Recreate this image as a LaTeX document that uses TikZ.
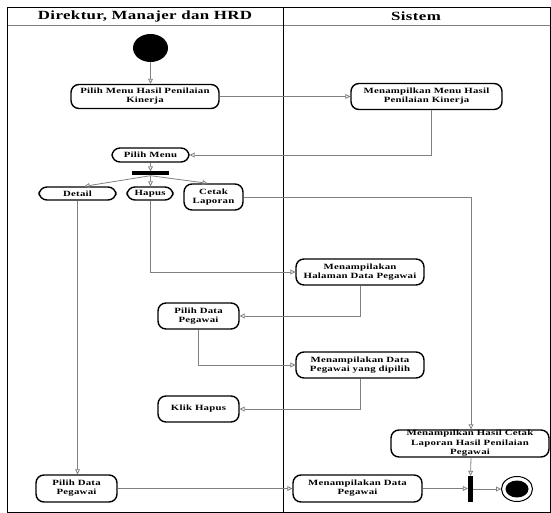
\documentclass[tikz,border=0pt]{standalone}
\usepackage{fontspec}
\setmainfont{Liberation Serif}[FakeStretch=1.35, LetterSpace=3]
\usepackage{tikz}
\usetikzlibrary{positioning,arrows}
\usetikzlibrary{shapes}
\usetikzlibrary{arrows.meta}

\begin{document}
\begin{tikzpicture}[x=1pt,y=-1pt]
  \useasboundingbox (0,0) rectangle (551,513);
  \tikzstyle{act}=[draw, line width=1.4pt, rounded corners=8pt, align=center, inner sep=1pt, font=\bfseries\fontsize{8}{9}\selectfont]
  \tikzstyle{lane}=[font=\bfseries\fontsize{12.5}{14}\selectfont]
  \tikzstyle{bar}=[fill=black, inner sep=0pt]
  \tikzstyle{flow}=[draw=gray, line width=0.8pt, -{Triangle[open, length=5pt, width=5pt]}]
  % swimlanes
  \draw [line width=0.6pt] (7.5,7.5) rectangle (550,512);
  \draw [gray, line width=0.6pt] (7.5,25.5) -- (550,25.5);
  \draw [line width=0.7pt] (283,7.5) -- (283,512);
  \draw (145,16) node (lane_user) [lane] {Direktur, Manajer dan HRD};
  \draw (416,16.5) node (lane_sys) [lane] {Sistem};
  % actions
  \draw (150.5,48) node (start) [ellipse, fill=black, minimum width=35, minimum height=28, inner sep=0pt] {};
  \draw (145,96.5) node (pilih_menu_hasil) [act, minimum width=148, minimum height=24] {Pilih Menu Hasil Penilaian\\Kinerja};
  \draw (426.5,96.5) node (tampil_menu_hasil) [act, minimum width=151, minimum height=26] {Menampilkan Menu Hasil\\Penilaian Kinerja};
  \draw (150.5,155) node (pilih_menu) [act, minimum width=77, minimum height=14] {Pilih Menu};
  \draw (150.5,173.5) node (fork) [bar, minimum width=37, minimum height=4] {};
  \draw (77.5,193.5) node (detail) [act, minimum width=77, minimum height=13] {Detail};
  \draw (150,193.5) node (hapus) [act, minimum width=46, minimum height=13] {Hapus};
  \draw (213.5,197) node (cetak) [act, minimum width=59, minimum height=26] {Cetak\\Laporan};
  \draw (360,272) node (tampil_halaman) [act, minimum width=128, minimum height=26] {Menampilakan\\Halaman Data Pegawai};
  \draw (198.5,316) node (pilih_data_1) [act, minimum width=81, minimum height=26] {Pilih Data\\Pegawai};
  \draw (360,365) node (tampil_dipilih) [act, minimum width=128, minimum height=26] {Menampilakan Data\\Pegawai yang dipilih};
  \draw (198.5,409) node (klik_hapus) [act, minimum width=81, minimum height=26] {Klik Hapus};
  \draw (470,443.5) node (tampil_cetak) [act, minimum width=158, minimum height=27] {};
  \draw (tampil_cetak) node (tampil_cetak_text) [align=center, inner sep=0pt, font=\bfseries\fontsize{8}{9.5}\selectfont] {Menampilkan Hasil Cetak\\Laporan Hasil Penilaian\\Pegawai};
  \draw (76.5,488.5) node (pilih_data_2) [act, minimum width=81, minimum height=27] {Pilih Data\\Pegawai};
  \draw (357.5,488.5) node (tampil_data) [act, minimum width=129, minimum height=27] {Menampilakan Data\\Pegawai};
  \draw (470.5,489) node (join) [bar, minimum width=5, minimum height=26] {};
  \draw (517,489) node (final) [draw, ellipse, line width=1pt, minimum width=31, minimum height=25, inner sep=0pt] {};
  \draw (final) node (final_dot) [ellipse, fill=black, minimum width=23, minimum height=17, inner sep=0pt] {};
  % transitions
  \draw [flow] (start) -- (start |- pilih_menu_hasil.north);
  \draw [flow] (pilih_menu_hasil.east) -- (pilih_menu_hasil.east -| tampil_menu_hasil.west);
  \draw [flow] ([xshift=5pt]tampil_menu_hasil.south) |- (pilih_menu.east);
  \draw [flow] (pilih_menu.south) -- (fork.north);
  \draw [flow] (fork.south) -- ([xshift=7pt]detail.north);
  \draw [flow] (fork.south) -- (fork.south |- hapus.north);
  \draw [flow] (fork.south) -- ([xshift=-6pt]cetak.north);
  \draw [flow] (detail.south) -- (detail.south |- pilih_data_2.north);
  \draw [flow] (hapus.south) |- (tampil_halaman.west);
  \draw [flow] (cetak.east) -| ([xshift=1pt]tampil_cetak.north);
  \draw [flow] (tampil_halaman.south) |- (pilih_data_1.east);
  \draw [flow] (pilih_data_1.south) |- (tampil_dipilih.west);
  \draw [flow] (tampil_dipilih.south) |- (klik_hapus.east);
  \draw [flow] (pilih_data_2.east) -- (tampil_data.west);
  \draw [flow] ([xshift=1pt]tampil_cetak.south) -- (join.north);
  \draw [flow] (tampil_data.east) -- (tampil_data.east -| join.west);
  \draw [flow] (join.east |- final) -- (final.west);
\end{tikzpicture}
\end{document}
